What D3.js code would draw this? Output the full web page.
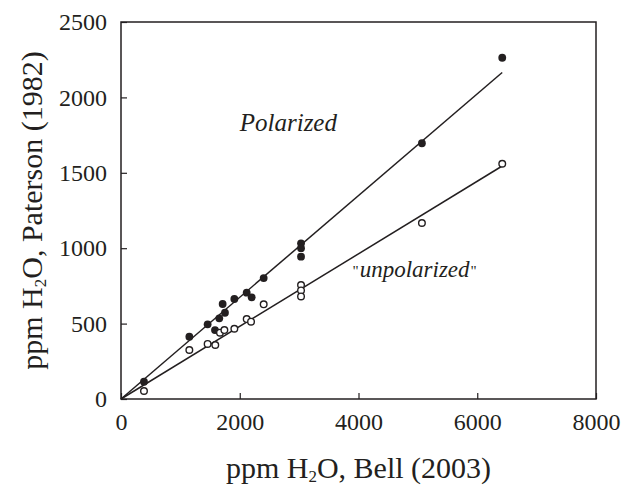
<!DOCTYPE html>
<html>
<head>
<meta charset="utf-8">
<script src="https://cdn.jsdelivr.net/npm/d3@7"></script>
<style>
  body { margin: 0; background: #fff; }
  svg text { font-family: "Liberation Serif", "Times New Roman", "DejaVu Serif", serif; fill: #231f20; }
</style>
</head>
<body>
<div id="chart"></div>
<script>
// polarized (filled circles)
const bellPol = [387, 1151, 1459, 1583, 1655, 1712, 1751, 1909, 2117, 2201, 2403, 3032, 3032, 3032, 5068, 6421];
const patPol  = [115, 413, 495, 457, 535, 630, 572, 663, 705, 674, 802, 1032, 1000, 944, 1696, 2263];
// "unpolarized" (open circles)
const bellUnp = [387, 1151, 1459, 1588, 1667, 1741, 1909, 2117, 2190, 2403, 3032, 3032, 3032, 5068, 6421];
const patUnp  = [53, 325, 365, 358, 440, 457, 466, 530, 513, 628, 756, 720, 680, 1167, 1560];
// regression lines
const fitX      = [0, 6420];
const fitPol    = [0, 2165];
const fitUnp    = [0, 1545];
const xTicks = [0, 2000, 4000, 6000, 8000];
const yTicks = [0, 500, 1000, 1500, 2000, 2500];

const width = 624, height = 495;
const margin = {top: 22, right: 28, bottom: 96, left: 121};
const iw = width - margin.left - margin.right,
      ih = height - margin.top - margin.bottom;

const svg = d3.select("#chart").append("svg")
    .attr("width", width)
    .attr("height", height);

const g = svg.append("g")
    .attr("transform", `translate(${margin.left},${margin.top})`);

const x = d3.scaleLinear().domain([0, 8000]).range([0, iw]);
const y = d3.scaleLinear().domain([0, 2500]).range([ih, 0]);

const ink = "#231f20";
const fmt = d3.format("d");

// axes with inward ticks
const xAxis = g.append("g")
    .attr("transform", `translate(0,${ih})`)
    .call(d3.axisBottom(x).tickValues(xTicks).tickFormat(fmt).tickSizeInner(-6).tickSizeOuter(0).tickPadding(14));
const yAxis = g.append("g")
    .call(d3.axisLeft(y).tickValues(yTicks).tickFormat(fmt).tickSizeInner(-6).tickSizeOuter(0).tickPadding(14));

[xAxis, yAxis].forEach(a => {
  a.attr("font-family", null).attr("font-size", null);
  a.select(".domain").remove();
  a.selectAll(".tick line").attr("stroke", ink).attr("stroke-width", 1.2);
  a.selectAll(".tick text")
    .attr("fill", ink)
    .style("font-size", "24px");
});
xAxis.selectAll(".tick text").attr("dy", "0.71em");

// frame
g.append("rect")
    .attr("x", 0).attr("y", 0)
    .attr("width", iw).attr("height", ih)
    .attr("fill", "none")
    .attr("stroke", ink)
    .attr("stroke-width", 1.5);

// fit lines
const line = d3.line().x(d => x(d[0])).y(d => y(d[1]));
[fitPol, fitUnp].forEach(fy => {
  g.append("path")
    .datum(fitX.map((v, i) => [v, fy[i]]))
    .attr("d", line)
    .attr("fill", "none")
    .attr("stroke", ink)
    .attr("stroke-width", 1.5);
});

// points
g.selectAll(".pol")
  .data(bellPol.map((v, i) => [v, patPol[i]]))
  .join("circle")
    .attr("class", "pol")
    .attr("cx", d => x(d[0]))
    .attr("cy", d => y(d[1]))
    .attr("r", 3.9)
    .attr("fill", ink);

g.selectAll(".unp")
  .data(bellUnp.map((v, i) => [v, patUnp[i]]))
  .join("circle")
    .attr("class", "unp")
    .attr("cx", d => x(d[0]))
    .attr("cy", d => y(d[1]))
    .attr("r", 3.3)
    .attr("fill", "#fff")
    .attr("stroke", ink)
    .attr("stroke-width", 1.4);

// annotations
g.append("text")
    .attr("x", x(2000)).attr("y", y(1775))
    .style("font-size", "25px")
    .style("font-style", "italic")
    .text("Polarized");

const un = g.append("text")
    .attr("x", x(3900)).attr("y", y(810))
    .style("font-size", "23px")
    .style("font-style", "italic");
un.append("tspan").text("\"").style("font-size", "15px").style("font-style", "normal").attr("dy", -1);
un.append("tspan").text("unpolarized").attr("dx", 1).attr("dy", 1);
un.append("tspan").text("\"").style("font-size", "15px").style("font-style", "normal").attr("dx", 1).attr("dy", -1);

// axis titles
const xt = svg.append("text")
    .attr("x", margin.left + iw / 2)
    .attr("y", 478)
    .attr("text-anchor", "middle")
    .style("font-size", "30px");
xt.append("tspan").text("ppm H");
xt.append("tspan").text("2").style("font-size", "17px").attr("dy", 4);
xt.append("tspan").text("O, Bell (2003)").attr("dy", -4);

const yt = svg.append("text")
    .attr("transform", `translate(42,${margin.top + ih / 2}) rotate(-90)`)
    .attr("text-anchor", "middle")
    .style("font-size", "30px");
yt.append("tspan").text("ppm H");
yt.append("tspan").text("2").style("font-size", "17px").attr("dy", 4);
yt.append("tspan").text("O, Paterson (1982)").attr("dy", -4);
</script>
</body>
</html>
